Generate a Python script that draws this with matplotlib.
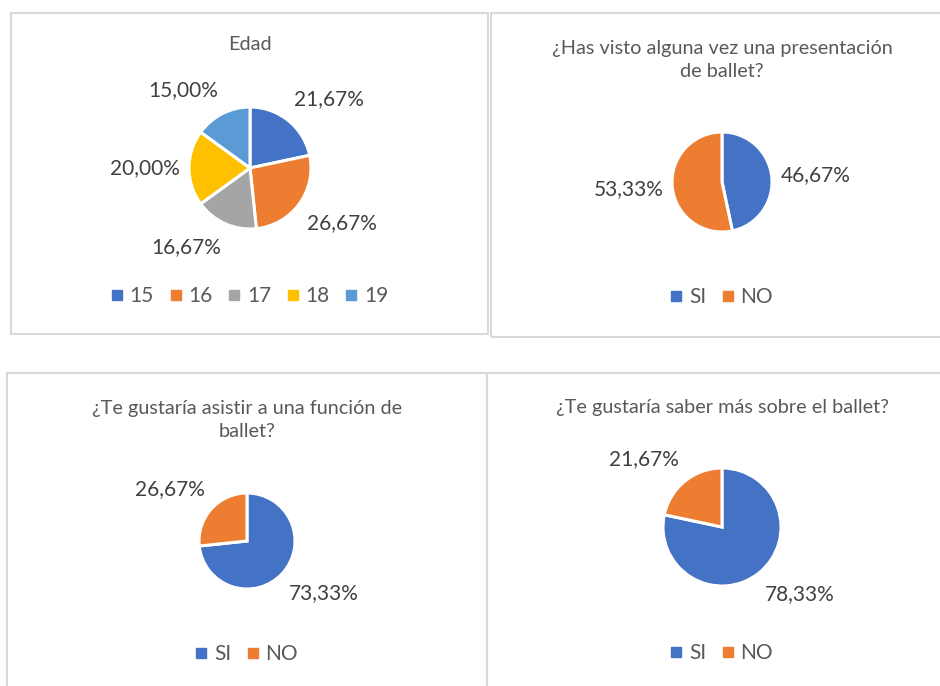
import matplotlib
matplotlib.use("Agg")
import numpy as np
import matplotlib.pyplot as plt
from matplotlib.patches import Rectangle
from matplotlib.lines import Line2D

plt.rcParams['font.family'] = ['Lato', 'DejaVu Sans']

W, H = 940, 686

# ---- data ----
edad_labels = ["15", "16", "17", "18", "19"]
edad_values = [21.67, 26.67, 16.67, 20.00, 15.00]

sino_labels = ["SI", "NO"]
visto_values = [46.67, 53.33]
asistir_values = [73.33, 26.67]
saber_values = [78.33, 21.67]

titles = ["Edad",
          "¿Has visto alguna vez una presentación\nde ballet?",
          "¿Te gustaría asistir a una función de\nballet?",
          "¿Te gustaría saber más sobre el ballet?"]

colors5 = ["#4472C4", "#ED7D31", "#A5A5A5", "#FFC000", "#5B9BD5"]
colors2 = ["#4472C4", "#ED7D31"]
TXT = "#404040"
TITLE = "#595959"

fig = plt.figure(figsize=(W / 100, H / 100), dpi=100)


def fx(x):
    return x / W


def fy(y):
    return 1 - y / H


# panel borders
for (x0, y0, x1, y1) in [(11, 13, 488, 334), (491, 13, 945, 337),
                         (7, 373, 487, 695), (487, 373, 945, 695)]:
    fig.add_artist(Rectangle((fx(x0), fy(y1)), fx(x1) - fx(x0), fy(y0) - fy(y1),
                             transform=fig.transFigure, fill=False,
                             edgecolor="#D9D9D9", linewidth=1.5))


def fmt(p):
    return f"{p:.2f}%".replace(".", ",")


def draw_pie(values, labels, colors, cx, cy, R, title, title_y, legend_y):
    pad = 90
    ax = fig.add_axes([fx(cx - R - pad), fy(cy + R + pad),
                       (2 * (R + pad)) / W, (2 * (R + pad)) / H])
    wedges, _, autotexts = ax.pie(values, colors=colors, startangle=90, counterclock=False,
                                  autopct=fmt, pctdistance=1.5,
                                  wedgeprops=dict(edgecolor="white", linewidth=2.2),
                                  textprops=dict(color=TXT, fontsize=15))
    # place labels just outside the pie, box edge facing the wedge (Excel "outside end")
    gx, gy = 9.0 / R, 15.0 / R
    for w, t in zip(wedges, autotexts):
        ang = np.deg2rad((w.theta1 + w.theta2) / 2)
        c, s = np.cos(ang), np.sin(ang)
        t.set_position((c * (1 + gx), s * (1 + gy)))
        t.set_ha("left" if c > 0.15 else ("right" if c < -0.15 else "center"))
        t.set_va("bottom" if s > 0.3 else ("top" if s < -0.3 else "center"))
    lim = (R + pad) / R
    ax.set_xlim(-lim, lim)
    ax.set_ylim(-lim, lim)
    ax.set_axis_off()
    fig.text(fx(cx), fy(title_y), title, ha="center", va="center",
             fontsize=14.3, color=TITLE, linespacing=1.4)
    handles = [Line2D([], [], marker="s", linestyle="none", markersize=7,
                      markerfacecolor=c, markeredgecolor=c) for c in colors]
    fig.legend(handles, labels, loc="center", bbox_to_anchor=(fx(cx), fy(legend_y)),
               ncol=len(labels), frameon=False, fontsize=15, labelcolor=TITLE,
               handlelength=0.5, handletextpad=0.35, columnspacing=0.8)


draw_pie(edad_values, edad_labels, colors5, 250, 168, 61, titles[0], 45, 296)
draw_pie(visto_values, sino_labels, colors2, 722, 182, 50, titles[1], 60, 297)
draw_pie(asistir_values, sino_labels, colors2, 247, 541, 48, titles[2], 420, 654)
draw_pie(saber_values, sino_labels, colors2, 722, 527, 59, titles[3], 408, 653)

fig.savefig("out.png", dpi=100, facecolor="white")
